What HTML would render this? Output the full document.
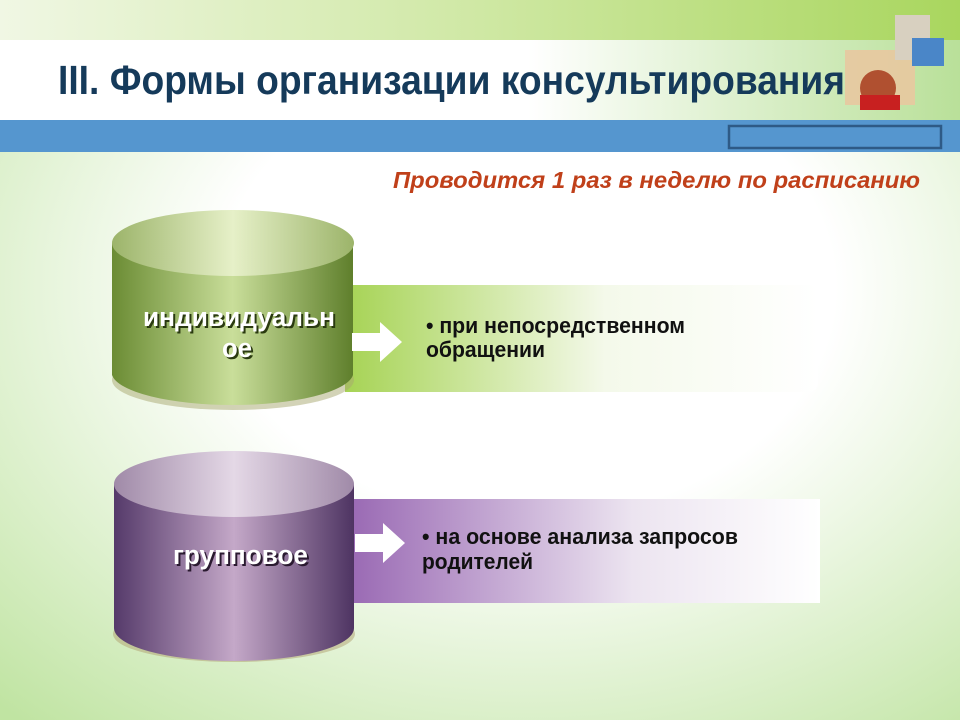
<!DOCTYPE html>
<html><head><meta charset="utf-8"><style>
html,body{margin:0;padding:0;width:960px;height:720px;overflow:hidden;background:#fff}
svg{display:block}
text{font-family:"Liberation Sans",sans-serif;font-weight:bold}
</style></head><body>
<svg width="960" height="720" viewBox="0 0 960 720" xmlns="http://www.w3.org/2000/svg">
<defs>
<linearGradient id="topband" x1="0" x2="1"><stop offset="0" stop-color="#f0f7e4"/><stop offset="0.5" stop-color="#cfe8a4"/><stop offset="1" stop-color="#a9d65e"/></linearGradient>
<linearGradient id="whiteband" x1="0" x2="1"><stop offset="0" stop-color="#fff"/><stop offset="0.55" stop-color="#fff"/><stop offset="1" stop-color="#b9e099"/></linearGradient>
<radialGradient id="bg" cx="0.55" cy="0.4" r="0.8"><stop offset="0.4" stop-color="#fff"/><stop offset="1" stop-color="#c0e4a2"/></radialGradient>
<linearGradient id="g1side" x1="0" x2="1"><stop offset="0" stop-color="#6b8c34"/><stop offset="0.5" stop-color="#c9de9a"/><stop offset="1" stop-color="#5f7f2c"/></linearGradient>
<linearGradient id="g1top" x1="0" x2="1"><stop offset="0" stop-color="#9cb46a"/><stop offset="0.5" stop-color="#e6f0c8"/><stop offset="1" stop-color="#9cb46a"/></linearGradient>
<linearGradient id="p1side" x1="0" x2="1"><stop offset="0" stop-color="#553a6a"/><stop offset="0.5" stop-color="#c4a8c8"/><stop offset="1" stop-color="#4e3462"/></linearGradient>
<linearGradient id="p1top" x1="0" x2="1"><stop offset="0" stop-color="#a08aa8"/><stop offset="0.5" stop-color="#e4d8e6"/><stop offset="1" stop-color="#a08aa8"/></linearGradient>
<linearGradient id="panel1" x1="0" x2="1"><stop offset="0" stop-color="#a6d354"/><stop offset="0.55" stop-color="#f4f9ea"/><stop offset="1" stop-color="#fff"/></linearGradient>
<linearGradient id="panel2" x1="0" x2="1"><stop offset="0" stop-color="#9a6ab4"/><stop offset="0.6" stop-color="#ece4f0"/><stop offset="1" stop-color="#fff"/></linearGradient>
</defs>
<rect width="960" height="720" fill="url(#bg)"/>
<rect x="0" y="0" width="960" height="40" fill="url(#topband)"/>
<rect x="0" y="40" width="960" height="80" fill="url(#whiteband)"/>
<rect x="0" y="120" width="960" height="32" fill="#5596cf"/>
<rect x="729" y="126" width="212" height="22" fill="#5596cf" stroke="#2e5a86" stroke-width="2.5"/>
<rect x="845" y="50" width="70" height="55" fill="#e8c8a0" opacity="0.9"/>
<rect x="895" y="15" width="35" height="45" fill="#d8d0c0"/>
<rect x="912" y="38" width="32" height="28" fill="#4a86c8"/>
<circle cx="878" cy="88" r="18" fill="#b05030"/>
<rect x="860" y="95" width="40" height="15" fill="#c82020"/>
<text x="58" y="94" font-size="41" fill="#153a5a" textLength="787" lengthAdjust="spacingAndGlyphs">III. Формы организации консультирования</text>
<text x="393" y="188" font-size="23" font-style="italic" fill="#c0401a" textLength="527" lengthAdjust="spacingAndGlyphs">Проводится 1 раз в неделю по расписанию</text>

<path d="M345 285 H808 Q818 285 818 295 V382 Q818 392 808 392 H345 Z" fill="url(#panel1)"/>
<ellipse cx="233" cy="380" rx="121" ry="30" fill="#a8a870" opacity="0.5"/>
<path d="M112 243 V375 A121 33 0 0 0 353 375 V243 Z" fill="url(#g1side)"/>
<ellipse cx="233" cy="243" rx="121" ry="33" fill="url(#g1top)"/>
<polygon points="352,333 380,333 380,322 402,342 380,362 380,351 352,351" fill="#fff"/>
<g font-size="27">
<text x="145" y="328" fill="#2a3a10" textLength="192" lengthAdjust="spacingAndGlyphs">индивидуальн</text>
<text x="143" y="326" fill="#fff" textLength="192" lengthAdjust="spacingAndGlyphs">индивидуальн</text>
<text x="224" y="359" fill="#2a3a10" textLength="30" lengthAdjust="spacingAndGlyphs">ое</text>
<text x="222" y="357" fill="#fff" textLength="30" lengthAdjust="spacingAndGlyphs">ое</text>
</g>
<text x="426" y="333" font-size="22" fill="#111" textLength="259" lengthAdjust="spacingAndGlyphs">• при непосредственном</text>
<text x="426" y="357" font-size="22" fill="#111" textLength="119" lengthAdjust="spacingAndGlyphs">обращении</text>

<rect x="352" y="499" width="468" height="104" fill="url(#panel2)"/>
<ellipse cx="234" cy="634" rx="121" ry="28" fill="#b0a070" opacity="0.5"/>
<path d="M114 484 V628 A120 33 0 0 0 354 628 V484 Z" fill="url(#p1side)"/>
<ellipse cx="234" cy="484" rx="120" ry="33" fill="url(#p1top)"/>
<polygon points="355,534 383,534 383,523 405,543 383,563 383,552 355,552" fill="#fff"/>
<text x="175" y="566" font-size="27" fill="#2a1a30" textLength="135" lengthAdjust="spacingAndGlyphs">групповое</text>
<text x="173" y="564" font-size="27" fill="#fff" textLength="135" lengthAdjust="spacingAndGlyphs">групповое</text>
<text x="422" y="544" font-size="22" fill="#111" textLength="316" lengthAdjust="spacingAndGlyphs">• на основе анализа запросов</text>
<text x="422" y="569" font-size="22" fill="#111" textLength="111" lengthAdjust="spacingAndGlyphs">родителей</text>
</svg>
</body></html>
